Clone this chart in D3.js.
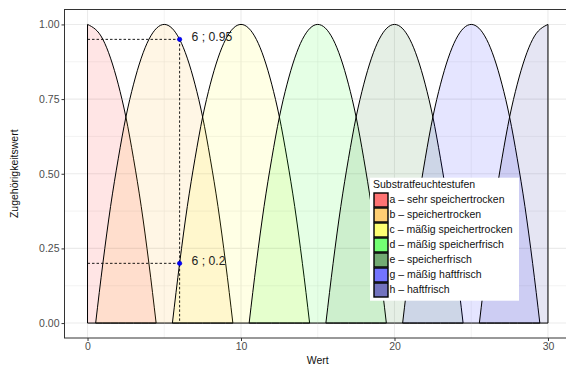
<!DOCTYPE html>
<html>
<head>
<meta charset="utf-8">
<script src="https://cdn.jsdelivr.net/npm/d3@7"></script>
<style>
  body { margin: 0; background: #fff; }
  svg text { font-family: "Liberation Sans", Arial, sans-serif; }
</style>
</head>
<body>
<svg width="566" height="367"></svg>
<script>
// Daten
const stufen = ["a", "b", "c", "d", "e", "g", "h"];
const stufenNamen = [
    "a – sehr speichertrocken",
    "b – speichertrocken",
    "c – mäßig speichertrocken",
    "d – mäßig speicherfrisch",
    "e – speicherfrisch",
    "g – mäßig haftfrisch",
    "h – haftfrisch"
];
const zentren = [0, 5, 10, 15, 20, 25, 30];
const farben = ["#ff0000", "#ffa500", "#ffff00", "#00ff00", "#006400", "#0000ff", "#00008b"];
// Form der Zugehörigkeitsfunktion (Abstand zum Zentrum -> Wert)
const profilAbstand = [-4.47, -4, -3.5, -3, -2.5, -2, -1, 0, 1, 2, 2.5, 3, 3.5, 4, 4.47];
const profilWert    = [0, 0.2, 0.39, 0.55, 0.69, 0.8, 0.95, 1, 0.95, 0.8, 0.69, 0.55, 0.39, 0.2, 0];
const punkteX = [6, 6];
const punkteY = [0.95, 0.2];
const xTicks = [0, 10, 20, 30];
const yTicks = [0, 0.25, 0.5, 0.75, 1];

const svg = d3.select("svg");
const pLeft = 64.5, pRight = 571, pTop = 9.5, pBottom = 338;

const x = d3.scaleLinear().domain([-1.5, 31.5]).range([pLeft, pRight]);
const y = d3.scaleLinear().domain([-0.05, 1.05]).range([pBottom, pTop]);

// Gitter
const grid = svg.append("g");
const xMinor = [5, 15, 25];
const yMinor = [0.125, 0.375, 0.625, 0.875];
grid.selectAll(".xm").data(xMinor).enter().append("line")
    .attr("x1", d => x(d)).attr("x2", d => x(d)).attr("y1", pTop).attr("y2", pBottom)
    .attr("stroke", "#ebebeb").attr("stroke-width", 0.6);
grid.selectAll(".ym").data(yMinor).enter().append("line")
    .attr("y1", d => y(d)).attr("y2", d => y(d)).attr("x1", pLeft).attr("x2", pRight)
    .attr("stroke", "#ebebeb").attr("stroke-width", 0.6);
grid.selectAll(".xM").data(xTicks).enter().append("line")
    .attr("x1", d => x(d)).attr("x2", d => x(d)).attr("y1", pTop).attr("y2", pBottom)
    .attr("stroke", "#ebebeb").attr("stroke-width", 1.1);
grid.selectAll(".yM").data(yTicks).enter().append("line")
    .attr("y1", d => y(d)).attr("y2", d => y(d)).attr("x1", pLeft).attr("x2", pRight)
    .attr("stroke", "#ebebeb").attr("stroke-width", 1.1);

// Flächen
const area = d3.area()
    .x(d => x(d.x))
    .y0(y(0))
    .y1(d => y(d.y))
    .curve(d3.curveMonotoneX);

stufen.forEach((s, i) => {
    const pts = profilAbstand
        .map((a, j) => ({x: zentren[i] + a, y: profilWert[j]}))
        .filter(p => p.x >= 0 && p.x <= 30);
    svg.append("path")
        .attr("d", area(pts))
        .attr("fill", farben[i])
        .attr("fill-opacity", 0.1)
        .attr("stroke", "#000")
        .attr("stroke-width", 1);
});

// Hilfslinien
const dash = svg.append("g").attr("stroke", "#000").attr("stroke-width", 0.9)
    .attr("stroke-dasharray", "2.5,2").attr("fill", "none");
punkteY.forEach((v, i) => {
    dash.append("line")
        .attr("x1", x(0)).attr("x2", x(punkteX[i]))
        .attr("y1", y(v)).attr("y2", y(v));
});
dash.append("line")
    .attr("x1", x(punkteX[0])).attr("x2", x(punkteX[0]))
    .attr("y1", y(d3.max(punkteY))).attr("y2", y(0));

// Punkte + Beschriftung
punkteY.forEach((v, i) => {
    svg.append("circle")
        .attr("cx", x(punkteX[i])).attr("cy", y(v)).attr("r", 2.2)
        .attr("fill", "#0000ff").attr("stroke", "#0000cc").attr("stroke-width", 0.6);
    svg.append("text")
        .attr("x", x(punkteX[i]) + 12).attr("y", y(v) - 1.5)
        .attr("dominant-baseline", "middle")
        .attr("font-size", 12.2).attr("fill", "#222")
        .text(punkteX[i] + " ; " + v);
});

// Rahmen
svg.append("rect")
    .attr("x", pLeft).attr("y", pTop)
    .attr("width", pRight - pLeft).attr("height", pBottom - pTop)
    .attr("fill", "none").attr("stroke", "#333").attr("stroke-width", 1);

// Achsen
const xAxis = svg.append("g").attr("transform", `translate(0,${pBottom})`)
    .call(d3.axisBottom(x).tickValues(xTicks).tickSize(3).tickPadding(2).tickFormat(d3.format("d")));
const yAxis = svg.append("g").attr("transform", `translate(${pLeft},0)`)
    .call(d3.axisLeft(y).tickValues(yTicks).tickSize(3).tickPadding(2).tickFormat(d3.format(".2f")));
[xAxis, yAxis].forEach(g => {
    g.select(".domain").remove();
    g.selectAll(".tick line").attr("stroke", "#333");
    g.selectAll(".tick text").attr("fill", "#4d4d4d").attr("font-size", 10.5)
        .style("font-family", "Liberation Sans, Arial, sans-serif");
});

svg.append("text")
    .attr("x", (pLeft + pRight) / 2).attr("y", 361).attr("text-anchor", "middle")
    .attr("dominant-baseline", "middle").attr("font-size", 10.5).attr("fill", "#111")
    .text("Wert");
svg.append("text")
    .attr("transform", `translate(15,${(pTop + pBottom) / 2}) rotate(-90)`)
    .attr("text-anchor", "middle").attr("dominant-baseline", "middle")
    .attr("font-size", 10.5).attr("fill", "#111")
    .text("Zugehörigkeitswert");

// Legende
const leg = svg.append("g");
leg.append("rect").attr("x", 370).attr("y", 177.7).attr("width", 149).attr("height", 123)
    .attr("fill", "#fff");
leg.append("text").attr("x", 373).attr("y", 185.5).attr("dominant-baseline", "middle")
    .attr("font-size", 10.5).attr("fill", "#111").text("Substratfeuchtestufen");
stufenNamen.forEach((n, i) => {
    const ky = 192.5 + i * 15;
    leg.append("rect").attr("x", 374).attr("y", ky + 0.5).attr("width", 14).attr("height", 14)
        .attr("fill", "#fff");
    leg.append("rect").attr("x", 374).attr("y", ky + 0.5).attr("width", 14).attr("height", 14)
        .attr("fill", farben[i]).attr("fill-opacity", 0.55)
        .attr("stroke", "#000").attr("stroke-width", 1.4);
    leg.append("text").attr("x", 389.5).attr("y", ky + 7.7).attr("dominant-baseline", "middle")
        .attr("font-size", 10.5).attr("fill", "#111").text(n);
});
</script>
</body>
</html>
